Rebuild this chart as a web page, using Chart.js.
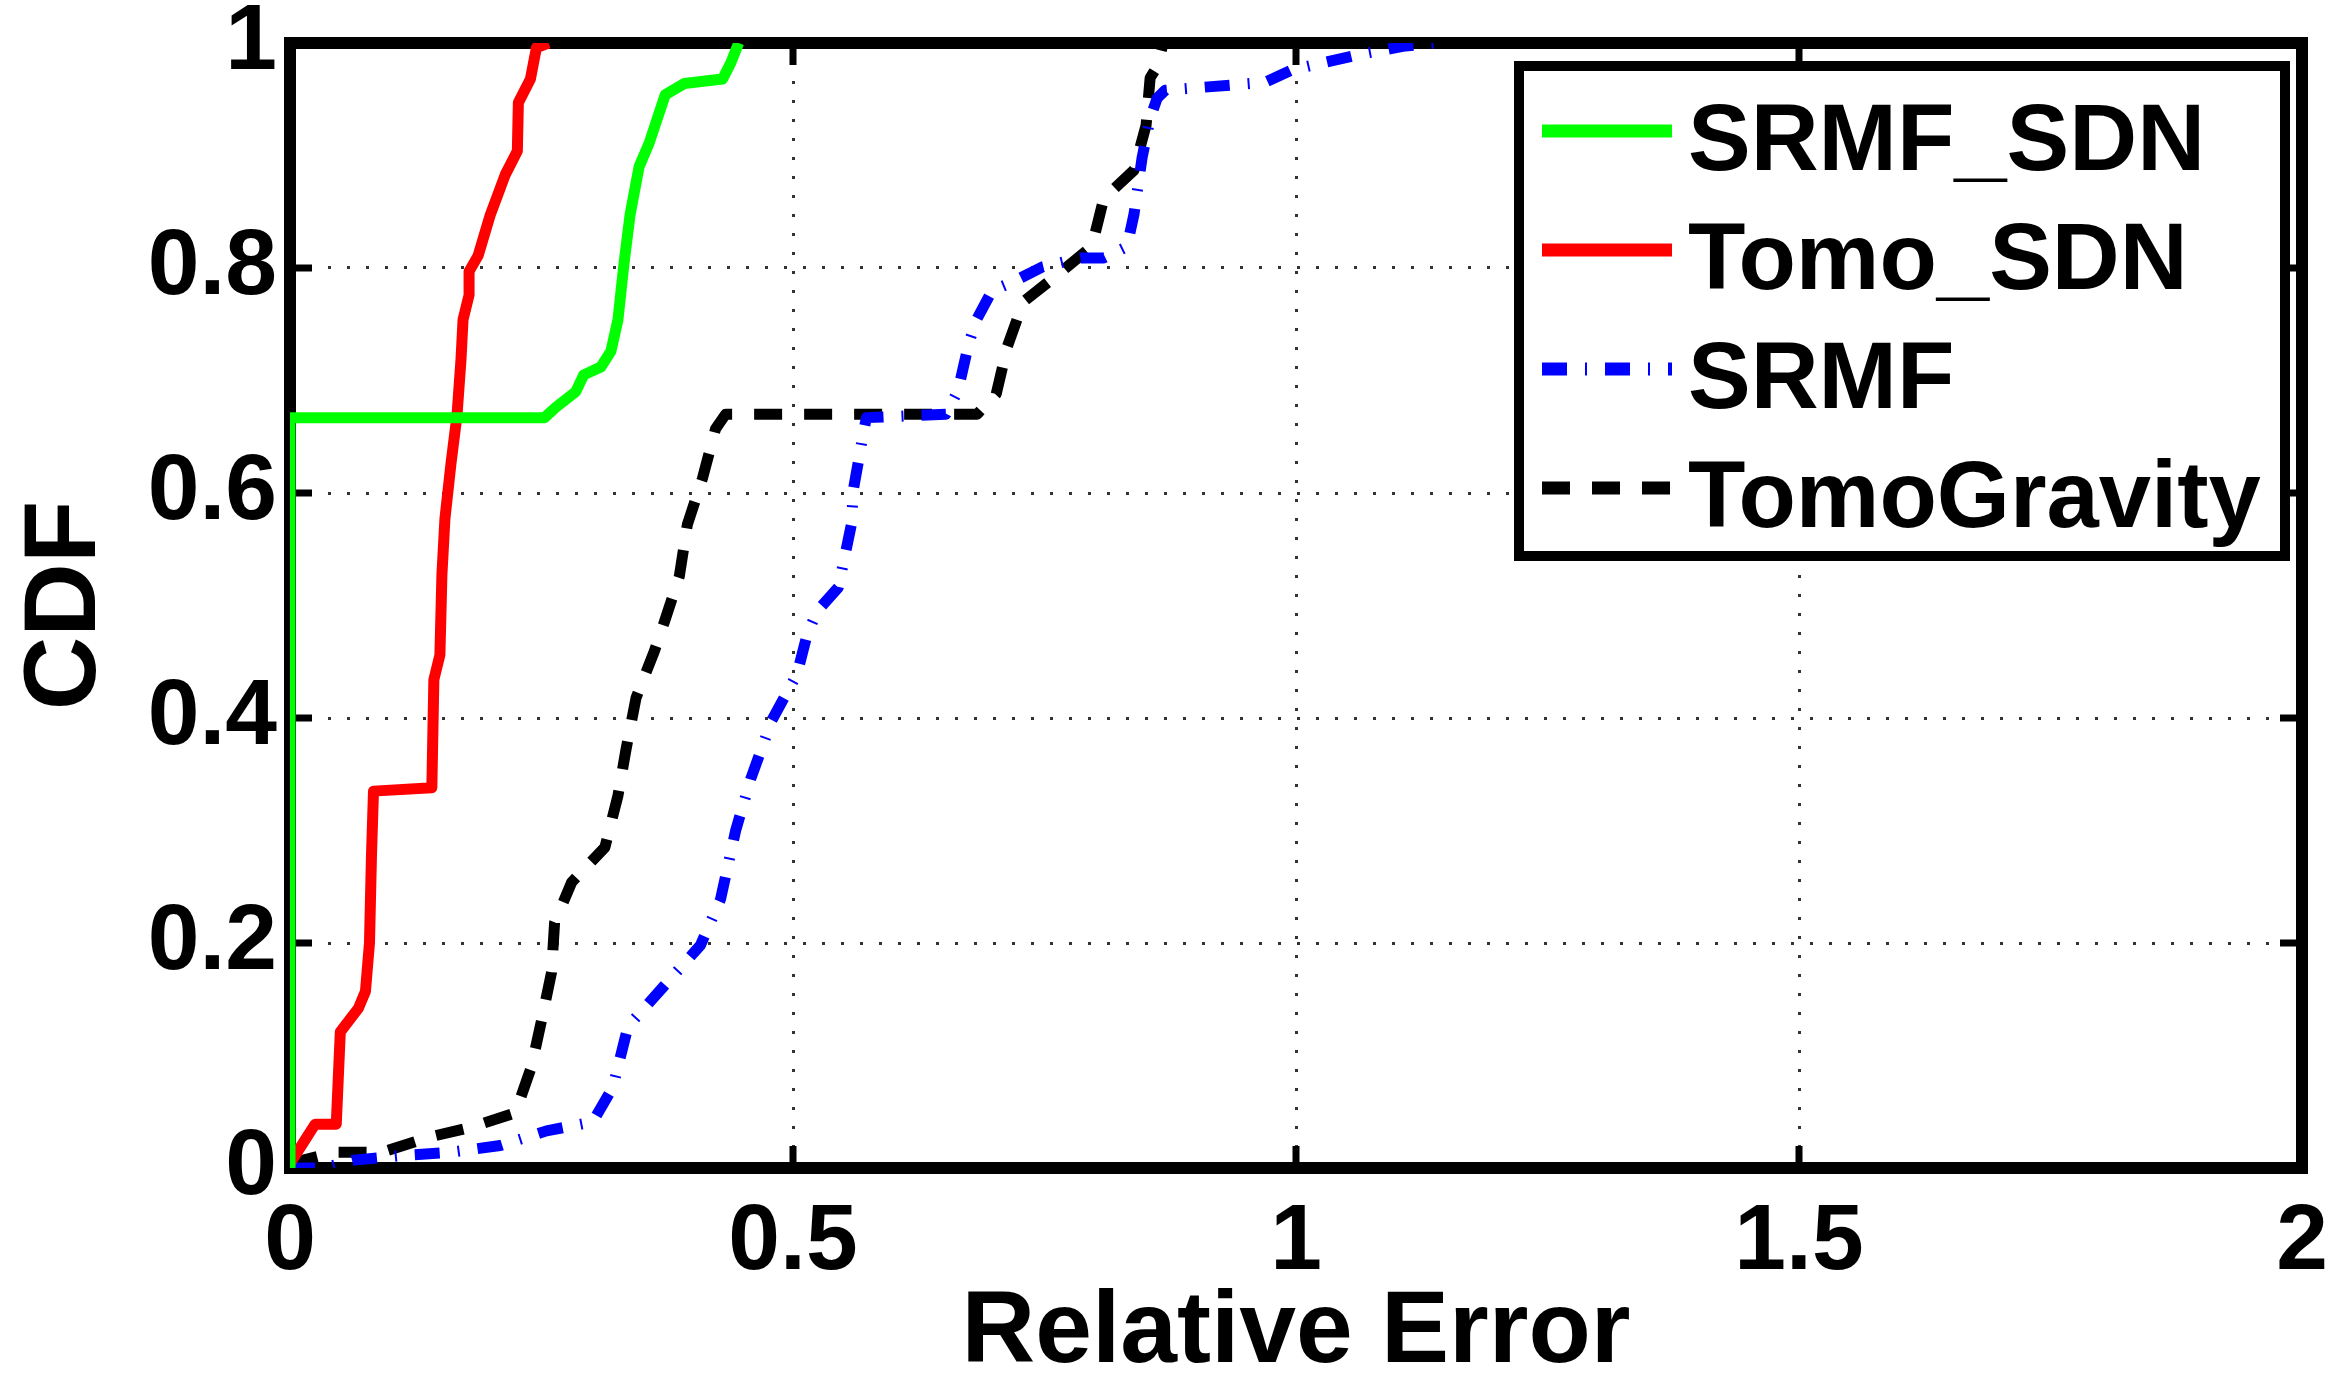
<!DOCTYPE html>
<html>
<head>
<meta charset="utf-8">
<title>CDF of Relative Error</title>
<script src="https://cdn.jsdelivr.net/npm/chart.js@4.4.0/dist/chart.umd.min.js"></script>
<style>
  html, body { margin: 0; padding: 0; background: #fff; }
  #wrap { width: 2340px; height: 1376px; }
</style>
</head>
<body>
<div id="wrap"><canvas id="cdfChart" width="2340" height="1376"></canvas></div>
<script>
// axis ticks
var xTicks = [0, 0.5, 1, 1.5, 2];
var xTickLabels = ['0', '0.5', '1', '1.5', '2'];
var yTicks = [0, 0.2, 0.4, 0.6, 0.8, 1];
var yTickLabels = ['0', '0.2', '0.4', '0.6', '0.8', '1'];

// SRMF_SDN (green)
var srmfSdnX = [0, 0, 0.253, 0.264, 0.284, 0.292, 0.309, 0.319, 0.326, 0.332, 0.338, 0.347, 0.357, 0.373, 0.392, 0.430, 0.438, 0.446];
var srmfSdnY = [0, 0.667, 0.667, 0.676, 0.690, 0.705, 0.712, 0.726, 0.754, 0.804, 0.847, 0.890, 0.911, 0.954, 0.964, 0.968, 0.982, 1.0];

// Tomo_SDN (red)
var tomoSdnX = [0, 0.025, 0.046, 0.050, 0.068, 0.075, 0.079, 0.081, 0.083, 0.141, 0.143, 0.149, 0.151, 0.154, 0.160, 0.166, 0.170, 0.172, 0.178, 0.178, 0.187, 0.199, 0.214, 0.226, 0.227, 0.239, 0.245, 0.257];
var tomoSdnY = [0.004, 0.039, 0.039, 0.121, 0.142, 0.157, 0.200, 0.278, 0.335, 0.338, 0.434, 0.456, 0.527, 0.577, 0.626, 0.669, 0.719, 0.754, 0.776, 0.797, 0.811, 0.847, 0.883, 0.904, 0.947, 0.968, 0.996, 1.0];

// SRMF (blue)
var srmfX = [0, 0.033, 0.064, 0.110, 0.160, 0.209, 0.255, 0.301, 0.321, 0.336, 0.372, 0.408, 0.428, 0.443, 0.458, 0.479, 0.504, 0.514, 0.524, 0.545, 0.552, 0.558, 0.560, 0.565, 0.570, 0.573, 0.652, 0.664, 0.675, 0.683, 0.698, 0.717, 0.748, 0.786, 0.809, 0.832, 0.839, 0.847, 0.855, 0.862, 0.870, 0.969, 0.996, 1.030, 1.064, 1.106, 1.140];
var srmfY = [0, 0, 0.007, 0.011, 0.014, 0.020, 0.033, 0.041, 0.072, 0.126, 0.162, 0.198, 0.239, 0.300, 0.346, 0.398, 0.439, 0.474, 0.495, 0.516, 0.546, 0.572, 0.603, 0.628, 0.654, 0.667, 0.670, 0.691, 0.734, 0.755, 0.780, 0.787, 0.801, 0.809, 0.809, 0.819, 0.848, 0.898, 0.933, 0.951, 0.958, 0.965, 0.976, 0.983, 0.990, 0.997, 1.0];

// TomoGravity (black)
var tomoGravX = [0, 0.044, 0.091, 0.141, 0.179, 0.224, 0.240, 0.250, 0.260, 0.263, 0.280, 0.313, 0.326, 0.334, 0.344, 0.362, 0.372, 0.387, 0.395, 0.410, 0.423, 0.433, 0.683, 0.702, 0.713, 0.729, 0.763, 0.797, 0.809, 0.839, 0.851, 0.855, 0.862, 0.868];
var tomoGravY = [0.004, 0.014, 0.014, 0.028, 0.036, 0.049, 0.090, 0.131, 0.174, 0.218, 0.254, 0.285, 0.331, 0.372, 0.418, 0.459, 0.485, 0.526, 0.572, 0.613, 0.657, 0.670, 0.670, 0.688, 0.730, 0.770, 0.794, 0.819, 0.862, 0.887, 0.927, 0.969, 0.979, 1.0];

var FONT = "'Liberation Sans', Arial, Helvetica, sans-serif";

function toPoints(xs, ys) {
	return xs.map(function(x, i) { return { x: x, y: ys[i] }; });
}

function series(label, xs, ys, color, dash) {
	return {
		label: label,
		data: toPoints(xs, ys),
		borderColor: color,
		backgroundColor: color,
		borderWidth: 11,
		borderDash: dash,
		borderJoinStyle: 'round',
		pointRadius: 0,
		tension: 0,
		fill: false,
		clip: 0
	};
}

// no extra label padding, so layout.padding decides the plot box
function noPad(s) {
	s.paddingLeft = 0; s.paddingRight = 0; s.paddingTop = 0; s.paddingBottom = 0;
}

// frame and inward ticks under the lines (like matlab), legend on top
var framePlugin = {
	id: 'frame',
	beforeDatasetsDraw: function(chart) {
		var ctx = chart.ctx, a = chart.chartArea;
		var sx = chart.scales.x, sy = chart.scales.y;
		ctx.save();
		ctx.setLineDash([]);
		ctx.strokeStyle = '#000';
		ctx.lineCap = 'butt';
		ctx.lineWidth = 7;
		ctx.beginPath();
		xTicks.forEach(function(v) {
			var px = sx.getPixelForValue(v);
			ctx.moveTo(px, a.bottom); ctx.lineTo(px, a.bottom - 22);
			ctx.moveTo(px, a.top); ctx.lineTo(px, a.top + 22);
		});
		yTicks.forEach(function(v) {
			var py = sy.getPixelForValue(v);
			ctx.moveTo(a.left, py); ctx.lineTo(a.left + 22, py);
			ctx.moveTo(a.right, py); ctx.lineTo(a.right - 22, py);
		});
		ctx.stroke();
		ctx.lineWidth = 12;
		ctx.strokeRect(a.left, a.top, a.right - a.left, a.bottom - a.top);
		ctx.restore();
	},
	afterDraw: function(chart) {
		var ctx = chart.ctx;
		var lx = 1519, ly = 66, lw = 766, lh = 490;
		ctx.save();
		ctx.fillStyle = '#fff';
		ctx.fillRect(lx, ly, lw, lh);
		ctx.strokeStyle = '#000';
		ctx.lineWidth = 10;
		ctx.setLineDash([]);
		ctx.strokeRect(lx, ly, lw, lh);
		ctx.font = 'bold 94px ' + FONT;
		ctx.textBaseline = 'alphabetic';
		ctx.textAlign = 'left';
		chart.data.datasets.forEach(function(ds, i) {
			var ry = 131 + i * 119;
			ctx.strokeStyle = ds.borderColor;
			ctx.lineWidth = 13;
			ctx.setLineDash(ds.borderDash || []);
			ctx.beginPath();
			ctx.moveTo(1542, ry);
			ctx.lineTo(1672, ry);
			ctx.stroke();
			ctx.setLineDash([]);
			ctx.fillStyle = '#000';
			ctx.fillText(ds.label, 1688, ry + 39);
		});
		ctx.restore();
	}
};

var chartArea = document.getElementById('cdfChart').getContext('2d');
var myChart = new Chart(chartArea, {
	type: 'line',
	data: {
		datasets: [
			series('SRMF_SDN', srmfSdnX, srmfSdnY, '#00ff00', []),
			series('Tomo_SDN', tomoSdnX, tomoSdnY, '#ff0000', []),
			series('SRMF', srmfX, srmfY, '#0000ff', [25, 18, 2, 18]),
			series('TomoGravity', tomoGravX, tomoGravY, '#000000', [28, 22])
		]
	},
	options: {
		responsive: false,
		animation: false,
		devicePixelRatio: 1,
		layout: { padding: { top: 43, right: 38, bottom: 0, left: 0 } },
		plugins: {
			legend: { display: false },
			tooltip: { enabled: false }
		},
		scales: {
			x: {
				type: 'linear',
				min: 0,
				max: 2,
				afterBuildTicks: function(s) { s.ticks = xTicks.map(function(v) { return { value: v }; }); },
				afterFit: function(s) { s.height = 208; noPad(s); },
				ticks: {
					callback: function(v, i) { return xTickLabels[i]; },
					font: { family: FONT, size: 93, weight: 'bold', lineHeight: 1 },
					color: '#000',
					padding: 29,
					maxRotation: 0,
					autoSkip: false
				},
				grid: { color: '#333', lineWidth: 3, drawTicks: false },
				border: { display: false, dash: [3, 16] },
				title: {
					display: true,
					text: 'Relative Error',
					font: { family: FONT, size: 102, weight: 'bold', lineHeight: 1 },
					color: '#000',
					padding: { top: 0, bottom: -9 }
				}
			},
			y: {
				type: 'linear',
				min: 0,
				max: 1,
				afterBuildTicks: function(s) { s.ticks = yTicks.map(function(v) { return { value: v }; }); },
				afterFit: function(s) { s.width = 290; noPad(s); },
				ticks: {
					callback: function(v, i) { return yTickLabels[i]; },
					font: { family: FONT, size: 93, weight: 'bold', lineHeight: 1 },
					color: '#000',
					padding: 13,
					autoSkip: false
				},
				grid: { color: '#333', lineWidth: 3, drawTicks: false },
				border: { display: false, dash: [3, 16] },
				title: {
					display: true,
					text: 'CDF',
					font: { family: FONT, size: 102, weight: 'bold', lineHeight: 1 },
					color: '#000',
					padding: { top: 16, bottom: 0 }
				}
			}
		}
	},
	plugins: [framePlugin]
});
</script>
</body>
</html>
